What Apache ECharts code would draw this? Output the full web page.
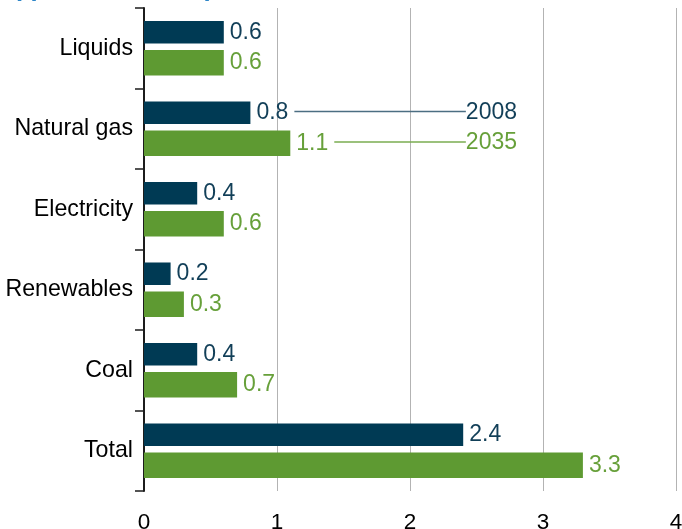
<!DOCTYPE html>
<html>
<head>
<meta charset="utf-8">
<script src="https://cdn.jsdelivr.net/npm/echarts@6/dist/echarts.min.js"></script>
<style>
  html, body { margin: 0; padding: 0; background: #ffffff; }
  #chart { width: 682px; height: 529px; }
</style>
</head>
<body>
<div id="chart"></div>
<script>
// Energy use by source (quadrillion Btu), 2008 vs 2035
const categories = ['Liquids', 'Natural gas', 'Electricity', 'Renewables', 'Coal', 'Total'];
const values2008 = [0.6, 0.8, 0.4, 0.2, 0.4, 2.4];
const values2035 = [0.6, 1.1, 0.6, 0.3, 0.7, 3.3];
const xTicks = [0, 1, 2, 3, 4];
const seriesNames = ['2008', '2035'];
const unitText = '(quadrillion Btu)';

const FONT = '"Liberation Sans", Arial, sans-serif';
const DARK = '#003a54';
const GREEN = '#5e9a32';
const DARK_TEXT = '#123f58';
const GREEN_TEXT = '#67a03a';
const BAR_W_2008 = 22.5;
const BAR_W_2035 = 25.5;
const BAR_GAP_PCT = 29;
const LABEL_DIST = 6;
const LABEL_SIZE = 23;

const chart = echarts.init(document.getElementById('chart'), null, { renderer: 'canvas' });

const option = {
  animation: false,
  backgroundColor: '#ffffff',
  grid: { left: 144, right: 6, top: 8, bottom: 38, containLabel: false, outerBoundsMode: 'none' },
  xAxis: {
    type: 'value',
    min: xTicks[0],
    max: xTicks[xTicks.length - 1],
    interval: 1,
    axisLine: { show: false },
    axisTick: { show: false },
    axisLabel: {
      color: '#000000', fontSize: 22.5, fontFamily: FONT, margin: 20,
      formatter: v => (xTicks.indexOf(v) >= 0 ? String(v) : '')
    },
    splitLine: { show: true, lineStyle: { color: '#b3b3b3', width: 1 } }
  },
  yAxis: {
    type: 'category',
    data: categories,
    inverse: true,
    axisLine: { show: true, lineStyle: { color: '#1c1c1c', width: 2 } },
    axisTick: { show: true, length: 9, lineStyle: { color: '#1c1c1c', width: 1.5 } },
    axisLabel: { color: '#000000', fontSize: 23.2, fontFamily: FONT, margin: 11 }
  },
  series: [
    {
      name: seriesNames[0], type: 'bar', data: values2008,
      barWidth: BAR_W_2008, barGap: BAR_GAP_PCT + '%',
      itemStyle: { color: DARK },
      label: {
        show: true, position: 'right', distance: LABEL_DIST,
        color: DARK_TEXT, fontSize: LABEL_SIZE, fontFamily: FONT,
        formatter: p => p.value.toFixed(1)
      }
    },
    {
      name: seriesNames[1], type: 'bar', data: values2035,
      barWidth: BAR_W_2035,
      itemStyle: { color: GREEN },
      label: {
        show: true, position: 'right', distance: LABEL_DIST,
        color: GREEN_TEXT, fontSize: LABEL_SIZE, fontFamily: FONT,
        formatter: p => p.value.toFixed(1)
      }
    }
  ]
};

chart.setOption(option);

// Series key drawn beside the "Natural gas" bars: a leader line from each value label to its year
const measure = document.createElement('canvas').getContext('2d');
measure.font = LABEL_SIZE + 'px ' + FONT;

const keyRow = categories.indexOf('Natural gas');
const rowCenter = chart.convertToPixel({ yAxisIndex: 0 }, categories[keyRow]);
const keyX = chart.convertToPixel({ xAxisIndex: 0 }, 2.42);

// bar centres relative to the category centre, following the bar layout above
const gapPx = BAR_W_2008 * BAR_GAP_PCT / 100;
const groupW = BAR_W_2008 + gapPx + BAR_W_2035;
const off2008 = -groupW / 2 + BAR_W_2008 / 2;
const off2035 = groupW / 2 - BAR_W_2035 / 2;

const graphics = [];
[
  { vals: values2008, name: seriesNames[0], off: off2008, line: '#4b6e82', text: DARK_TEXT },
  { vals: values2035, name: seriesNames[1], off: off2035, line: '#7aad50', text: GREEN_TEXT }
].forEach(s => {
  const v = s.vals[keyRow];
  const barEnd = chart.convertToPixel({ xAxisIndex: 0 }, v);
  const labelEnd = barEnd + LABEL_DIST + measure.measureText(v.toFixed(1)).width;
  const y = rowCenter + s.off - 1.2;
  graphics.push({
    type: 'line',
    shape: { x1: labelEnd + 6, y1: y, x2: keyX, y2: y },
    style: { stroke: s.line, lineWidth: 1.5 },
    silent: true
  });
  graphics.push({
    type: 'text',
    x: keyX, y: y + 1,
    style: { text: s.name, fill: s.text, font: LABEL_SIZE + 'px ' + FONT, verticalAlign: 'middle', align: 'left' },
    silent: true
  });
});

// Unit caption sitting above the visible area; only its descenders show at the top edge
graphics.push({
  type: 'text',
  x: 13, y: 1.6,
  style: { text: unitText, fill: '#2e86c8', font: 'bold 26px ' + FONT, verticalAlign: 'bottom', align: 'left' },
  silent: true
});

chart.setOption({ graphic: graphics });
</script>
</body>
</html>
